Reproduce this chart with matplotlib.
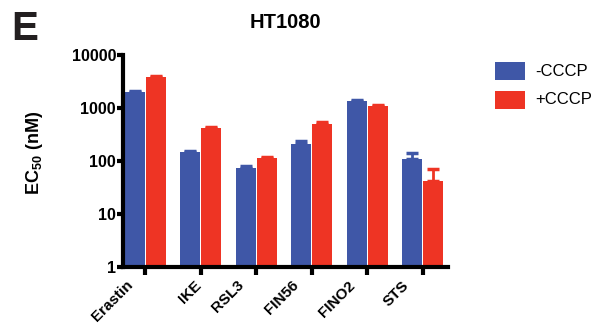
import matplotlib
matplotlib.use("Agg")
import matplotlib.pyplot as plt
import numpy as np
from matplotlib.patches import Rectangle
from matplotlib.transforms import ScaledTranslation

plt.rcParams['font.family'] = ['Liberation Sans', 'DejaVu Sans']
plt.rcParams['mathtext.fontset'] = 'custom'
plt.rcParams['mathtext.bf'] = 'Liberation Sans:bold'
plt.rcParams['mathtext.rm'] = 'Liberation Sans'

categories = ["Erastin", "IKE", "RSL3", "FIN56", "FINO2", "STS"]
minus_cccp = [2000, 148, 75, 205, 1330, 108]
minus_err = [100, 6, 4, 35, 60, 35]
plus_cccp = [3800, 420, 112, 490, 1080, 42]
plus_err = [150, 20, 6, 60, 40, 30]
series_names = ["-CCCP", "+CCCP"]
yticks = [1, 10, 100, 1000, 10000]
yticklabels = ["1", "10", "100", "1000", "10000"]

# horizontal shift of each rotated tick label, in pixels (layout only)
label_shift_px = [-12, 1.5, -12, -12, -12, -13]

blue = "#3F57A7"
red = "#EE3424"

fig = plt.figure(figsize=(5.97, 3.25), dpi=100)
ax = fig.add_axes([0.206, 0.178, 0.544, 0.653])

x = np.arange(len(categories))
w = 0.36
off = 0.19
ax.bar(x - off, minus_cccp, width=w, color=blue, yerr=[np.zeros(len(x)), minus_err],
       error_kw=dict(ecolor=blue, elinewidth=2, capsize=4, capthick=2.5), zorder=2)
ax.bar(x + off, plus_cccp, width=w, color=red, yerr=[np.zeros(len(x)), plus_err],
       error_kw=dict(ecolor=red, elinewidth=2, capsize=4, capthick=2.5), zorder=2)

ax.set_yscale('log')
ax.set_ylim(1, 10000)
ax.set_xlim(-0.40, 5.45)
ax.set_yticks(yticks)
ax.set_yticklabels(yticklabels, fontweight='bold', fontsize=11.5)
ax.yaxis.set_minor_locator(matplotlib.ticker.NullLocator())
ax.set_xticks(x)
ax.set_xticklabels(categories, rotation=45, ha='right', va='baseline', rotation_mode='anchor',
                   fontweight='bold', fontsize=11)

for s in ['top', 'right']:
    ax.spines[s].set_visible(False)
for s in ['left', 'bottom']:
    ax.spines[s].set_linewidth(3)
ax.tick_params(axis='y', length=4, width=3, pad=1)
ax.tick_params(axis='x', length=6, width=3, pad=7.5)

for lab, sh in zip(ax.get_xticklabels(), label_shift_px):
    lab.set_transform(lab.get_transform() + ScaledTranslation(sh / 100, 0, fig.dpi_scale_trans))

ax.set_ylabel(r"$\mathbf{EC_{50}\ (nM)}$", fontsize=13)
ax.yaxis.set_label_coords(-0.24, 0.54)

fig.text(285 / 597, 1 - 22.5 / 325, "HT1080", ha='center', va='center', fontweight='bold', fontsize=14.5)
fig.text(11 / 597, 1 - 29 / 325, "E", ha='left', va='center', fontweight='bold', fontsize=29, color='#231F20')

# legend
for i, (name, col) in enumerate(zip(series_names, [blue, red])):
    y0 = 62 + i * 29
    fig.patches.append(Rectangle((495 / 597, 1 - (y0 + 18) / 325), 30 / 597, 18 / 325,
                                 transform=fig.transFigure, facecolor=col, edgecolor='none'))
    fig.text(535 / 597, 1 - (y0 + 9) / 325, name, ha='left', va='center', fontsize=12)

fig.savefig("out.png", dpi=100)
